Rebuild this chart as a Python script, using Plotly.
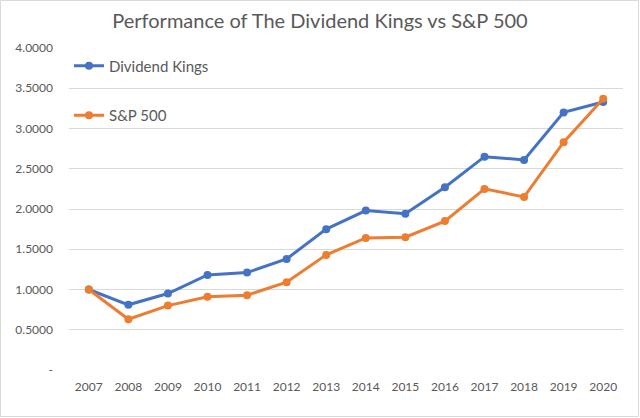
import plotly.graph_objects as go

years = ["2007", "2008", "2009", "2010", "2011", "2012", "2013", "2014",
         "2015", "2016", "2017", "2018", "2019", "2020"]
dividend_kings = [1.00, 0.81, 0.95, 1.18, 1.21, 1.38, 1.75, 1.98,
                  1.94, 2.27, 2.65, 2.61, 3.20, 3.33]
sp500 = [1.00, 0.63, 0.80, 0.91, 0.93, 1.09, 1.43, 1.64,
         1.65, 1.85, 2.25, 2.15, 2.83, 3.37]
y_tick_vals = [0, 0.5, 1.0, 1.5, 2.0, 2.5, 3.0, 3.5, 4.0]
y_tick_text = ["-", "0.5000", "1.0000", "1.5000", "2.0000", "2.5000",
               "3.0000", "3.5000", "4.0000"]

FONT = "Lato, Carlito, Calibri, sans-serif"
GRAY = "#595959"

fig = go.Figure()
fig.add_trace(go.Scatter(
    x=years, y=dividend_kings, name="Dividend Kings", mode="lines+markers",
    line=dict(color="#4472C4", width=3), marker=dict(size=8, color="#4472C4"),
    legendgroup="a"))
fig.add_trace(go.Scatter(
    x=years, y=sp500, name="S&P 500", mode="lines+markers",
    line=dict(color="#ED7D31", width=3), marker=dict(size=8, color="#ED7D31"),
    legendgroup="b"))

L, R, T, B = 69, 17, 48, 48
W, H = 640, 418
pw, ph = W - L - R, H - T - B

fig.update_layout(
    width=W, height=H,
    margin=dict(l=L, r=R, t=T, b=B),
    paper_bgcolor="white", plot_bgcolor="white",
    font=dict(family=FONT, color=GRAY, size=12),
    title=dict(text="Performance of The Dividend Kings vs S&P 500",
               x=0.5, xanchor="center", y=1 - 21 / H, yanchor="middle",
               font=dict(family=FONT, size=20, color=GRAY)),
    xaxis=dict(type="category", range=[-0.5, 13.5], showgrid=False,
               showline=False, zeroline=False, ticks="",
               ticklabelstandoff=8,
               tickfont=dict(size=12, color=GRAY), fixedrange=True),
    yaxis=dict(range=[0, 4], tickvals=y_tick_vals, ticktext=y_tick_text,
               showgrid=True, gridcolor="#d9d9d9", gridwidth=1,
               zeroline=False, showline=False, ticks="",
               ticklabelstandoff=15,
               tickfont=dict(size=12, color=GRAY), fixedrange=True),
    legend=dict(x=0.0, y=0.995, xanchor="left", yanchor="top",
                bgcolor="rgba(0,0,0,0)", font=dict(size=15, color=GRAY),
                tracegroupgap=27, itemwidth=30, traceorder="grouped"),
    showlegend=True,
)

fig.add_shape(type="rect", xref="paper", yref="paper",
              x0=(0.5 - L) / pw, x1=(W - 1.5 - L) / pw,
              y0=-(B - 1.5) / ph, y1=1 + (T - 0.5) / ph,
              line=dict(color="#d9d9d9", width=1), layer="below")

fig.write_html("out.html")
